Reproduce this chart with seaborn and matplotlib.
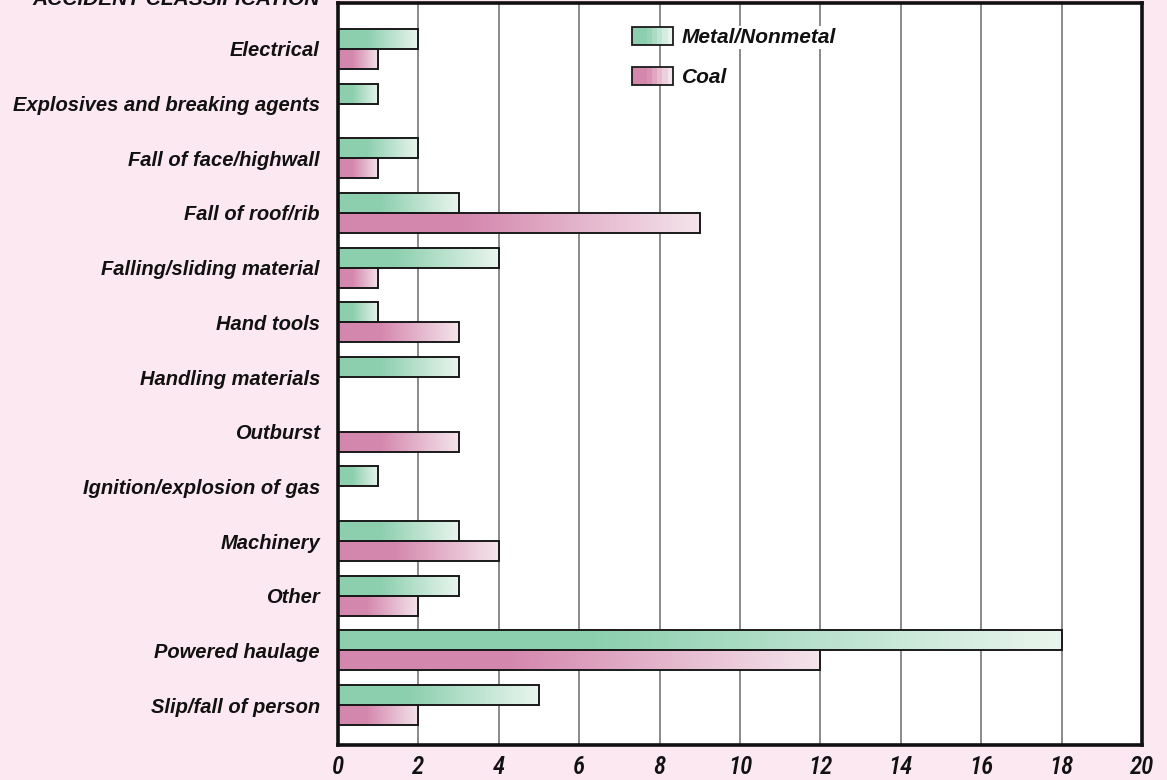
import numpy as np
import pandas as pd
import matplotlib
matplotlib.use("Agg")
import matplotlib.pyplot as plt
import seaborn as sns
from matplotlib.colors import LinearSegmentedColormap, to_rgb
from matplotlib.patches import Rectangle
from matplotlib.legend_handler import HandlerBase
from matplotlib import font_manager

categories = ["Electrical", "Explosives and breaking agents", "Fall of face/highwall",
              "Fall of roof/rib", "Falling/sliding material", "Hand tools",
              "Handling materials", "Outburst", "Ignition/explosion of gas",
              "Machinery", "Other", "Powered haulage", "Slip/fall of person"]
metal_nonmetal = [2, 1, 2, 3, 4, 1, 3, np.nan, 1, 3, 3, 18, 5]
coal = [1, np.nan, 1, 9, 1, 3, np.nan, 3, np.nan, 4, 2, 12, 2]
series_names = ["Metal/Nonmetal", "Coal"]
x_ticks = [0, 2, 4, 6, 8, 10, 12, 14, 16, 18, 20]

BG = "#FCE8F0"
base_colors = {"Metal/Nonmetal": ("#8CCFAE", "#E9F5EE"), "Coal": ("#D487AD", "#F4E4EB")}

rows = []
for c, m, k in zip(categories, metal_nonmetal, coal):
    rows.append({"cat": c, "series": "Metal/Nonmetal", "val": m})
    rows.append({"cat": c, "series": "Coal", "val": k})
df = pd.DataFrame(rows).dropna()

sns.set_style("white")
label_font = ["Liberation Sans", "DejaVu Sans"]
installed = {f.name for f in font_manager.fontManager.ttflist}
tick_font = [f for f in ["Roboto Condensed", "Liberation Sans Narrow", "Liberation Sans"]
             if f in installed] + ["DejaVu Sans"]
plt.rcParams["font.family"] = label_font

fig = plt.figure(figsize=(11.67, 7.8), dpi=100, facecolor=BG)
ax = fig.add_axes([338 / 1167, 1 - 745 / 780, (1142 - 338) / 1167, (745 - 3) / 780])
ax.set_facecolor("white")

sns.barplot(data=df, y="cat", x="val", hue="series", order=categories,
            hue_order=series_names, orient="h", width=0.73, dodge=True,
            palette={s: base_colors[s][0] for s in series_names},
            edgecolor="#1a1a1a", linewidth=1.4, legend=False, ax=ax, zorder=3)

def make_cmap(c0, c1):
    r0 = to_rgb(c0); r1 = to_rgb(c1)
    return LinearSegmentedColormap.from_list("g", [(0, r0), (0.35, r0), (1, r1)])

cmaps = {s: make_cmap(*base_colors[s]) for s in series_names}
grad = np.linspace(0, 1, 256).reshape(1, -1)

for container, s in zip(ax.containers, series_names):
    for rect in container:
        w = rect.get_width()
        if not np.isfinite(w) or w <= 0:
            continue
        x0, y0, h = rect.get_x(), rect.get_y(), rect.get_height()
        ax.imshow(grad, extent=[x0, x0 + w, y0 + h, y0], cmap=cmaps[s],
                  aspect="auto", interpolation="bilinear", zorder=3)
        rect.set_facecolor("none")
        rect.set_zorder(4)

ax.set_xlim(0, 20)
ax.set_ylim(12.73, -0.84)
ax.set_xticks(x_ticks)
ax.set_xticklabels([str(t) for t in x_ticks])
ax.set_xlabel("")
ax.set_ylabel("")
ax.xaxis.grid(True, color="#6b6b6b", linewidth=1.1)
ax.yaxis.grid(False)
ax.set_axisbelow(True)
ax.tick_params(axis="both", length=0)
ax.tick_params(axis="y", pad=13)
ax.tick_params(axis="x", pad=7)
for lab in ax.get_yticklabels():
    lab.set_fontfamily(label_font)
    lab.set_fontsize(14.5)
    lab.set_fontstyle("italic")
    lab.set_fontweight("bold")
    lab.set_color("#111111")
for lab in ax.get_xticklabels():
    lab.set_fontfamily(tick_font)
    lab.set_fontsize(18)
    lab.set_fontstyle("italic")
    lab.set_fontweight("medium")
    lab.set_color("#111111")
for sp in ax.spines.values():
    sp.set_visible(True)
    sp.set_color("#111111")
    sp.set_linewidth(2.6)
    sp.set_zorder(6)

fig.text(320 / 1167, 1 - 5 / 780, "ACCIDENT CLASSIFICATION", ha="right", va="baseline",
         fontsize=15, fontstyle="italic", fontweight="bold", color="#111111",
         family=label_font)


class GradientHandler(HandlerBase):
    def __init__(self, c0, c1, n=8):
        super().__init__()
        self.c0 = np.array(to_rgb(c0)); self.c1 = np.array(to_rgb(c1)); self.n = n

    def create_artists(self, legend, orig_handle, xdescent, ydescent, width, height,
                       fontsize, trans):
        arts = []
        n = self.n
        for i in range(n):
            t = max(0.0, (i / (n - 1) - 0.35) / 0.65)
            col = self.c0 + (self.c1 - self.c0) * t
            r = Rectangle((-xdescent + width * i / n, -ydescent), width / n + 0.3, height,
                          facecolor=col, edgecolor="none", transform=trans)
            arts.append(r)
        arts.append(Rectangle((-xdescent, -ydescent), width, height, facecolor="none",
                              edgecolor="#1a1a1a", linewidth=1.3, transform=trans))
        return arts


h_metal = Rectangle((0, 0), 1, 1)
h_coal = Rectangle((0, 0), 1, 1)
leg = ax.legend([h_metal, h_coal], series_names,
                handler_map={h_metal: GradientHandler(*base_colors["Metal/Nonmetal"]),
                             h_coal: GradientHandler(*base_colors["Coal"])},
                loc="upper left", bbox_to_anchor=(632 / 1167, 1 - 27 / 780),
                bbox_transform=fig.transFigure, frameon=False, borderpad=0,
                borderaxespad=0, handlelength=1.95, handleheight=0.95,
                labelspacing=0.95, handletextpad=0.45,
                prop={"family": label_font, "size": 15, "style": "italic", "weight": "bold"})
leg.set_zorder(7)
for t in leg.get_texts():
    t.set_color("#111111")
    t.set_bbox(dict(facecolor="white", edgecolor="none", pad=1.5))

fig.savefig("out.png", dpi=100, facecolor=BG)
